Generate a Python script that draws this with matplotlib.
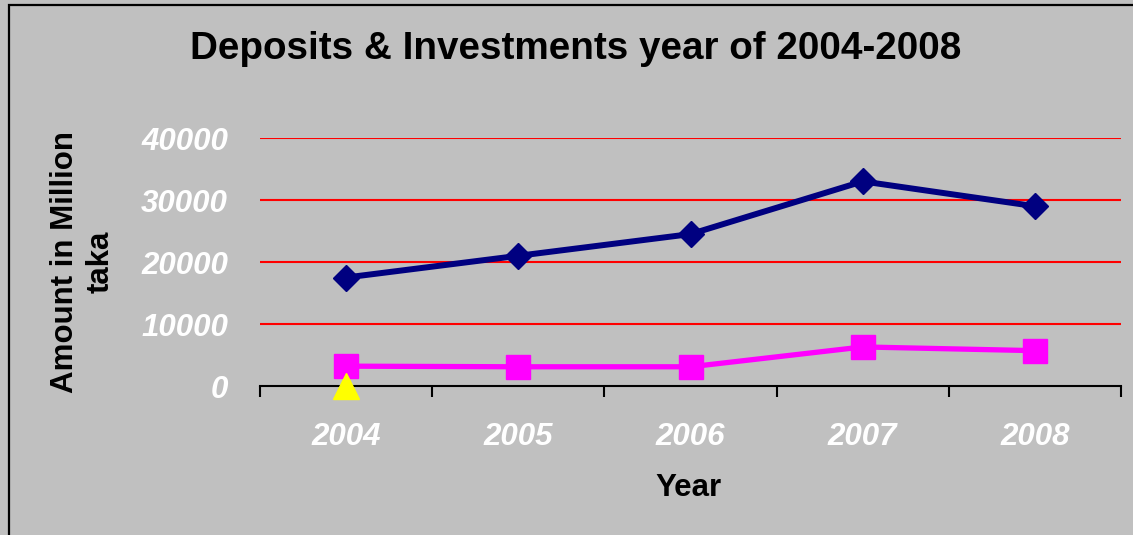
import matplotlib.pyplot as plt
from matplotlib.patches import Rectangle

plt.rcParams['font.family'] = ['Liberation Sans', 'DejaVu Sans']

# Yearly figures, million taka
years = ['2004', '2005', '2006', '2007', '2008']
deposits = [17500, 21000, 24500, 33000, 29000]
investments = [3200, 3100, 3100, 6300, 5700]
extra_years = ['2004']
extra_values = [0]

bg = '#C0C0C0'
fig = plt.figure(figsize=(11.33, 5.35), dpi=100, facecolor=bg)
ax = fig.add_axes([260 / 1133, 1 - 386 / 535, (1121 - 260) / 1133, (386 - 138) / 535])
ax.set_facecolor(bg)

x = list(range(len(years)))
ax.plot(x, deposits, color='#000080', lw=4.3, marker='D', ms=13.5, zorder=4)
ax.plot(x, investments, color='#FF00FF', lw=3.8, marker='s', ms=17, zorder=4)
xe = [years.index(y) for y in extra_years]
ax.plot(xe, extra_values, ls='none', color='#FFFF00', marker='^', ms=18.5,
        zorder=5, clip_on=False)

ax.set_xlim(-0.5, len(years) - 0.5)
ax.set_ylim(0, 40000)

# red horizontal grid
yt = [0, 10000, 20000, 30000, 40000]
ax.set_yticks(yt)
ax.set_yticklabels([str(v) for v in yt])
for v in yt[1:]:
    ax.axhline(v, color='#FF0000', lw=1.5, zorder=1)

# category boundaries as ticks, labels in the middle
ax.set_xticks([i - 0.5 for i in range(len(years) + 1)])
ax.set_xticklabels([])
ax.set_xticks(x, minor=True)
ax.set_xticklabels(years, minor=True)
ax.tick_params(axis='x', which='major', direction='out', length=8, width=1.5, color='black')
ax.tick_params(axis='x', which='minor', length=0, pad=26, labelsize=22.5, labelcolor='white')
ax.tick_params(axis='y', length=0, pad=23, labelsize=22.5, labelcolor='white')
for lab in ax.get_xticklabels(minor=True) + ax.get_yticklabels():
    lab.set_fontstyle('italic')
    lab.set_fontweight('bold')

for s in ['left', 'right', 'top']:
    ax.spines[s].set_visible(False)
ax.spines['bottom'].set_linewidth(1.5)
ax.spines['bottom'].set_zorder(3)

fig.text(576 / 1133, 1 - 49 / 535, 'Deposits & Investments year of 2004-2008',
         ha='center', va='center', fontsize=27.8, fontweight='bold')
fig.text(688 / 1133, 1 - 488 / 535, 'Year', ha='center', va='center',
         fontsize=22.5, fontweight='bold')
fig.text(83 / 1133, 1 - 262 / 535, 'Amount in Million\ntaka', ha='center', va='center',
         rotation=90, multialignment='center', fontsize=22.5, fontweight='bold',
         linespacing=1.25)

# chart border (left and top edges show)
fig.add_artist(Rectangle((9 / 1133, -0.1), 1.2, 1.1 - 5 / 535, transform=fig.transFigure,
                         fill=False, ec='black', lw=1.6))

fig.savefig('out.png', dpi=100, facecolor=bg)
